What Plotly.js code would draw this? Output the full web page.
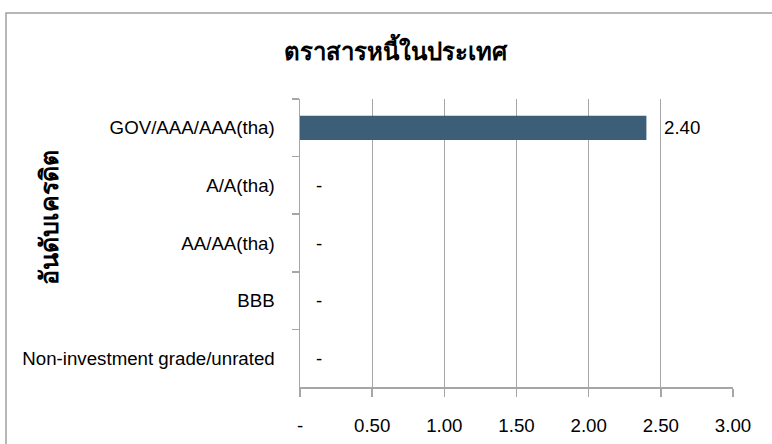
<!DOCTYPE html>
<html>
<head>
<meta charset="utf-8">
<script src="https://cdn.plot.ly/plotly-3.0.1.min.js"></script>
<style>
  html, body { margin: 0; padding: 0; background: #fff; }
  #chart { width: 772px; height: 444px; }
</style>
</head>
<body>
<div id="chart"></div>
<script>
const chartTitle = "ตราสารหนี้ในประเทศ";
const yTitle = "อันดับเครดิต";
const categories = ["GOV/AAA/AAA(tha)", "A/A(tha)", "AA/AA(tha)", "BBB", "Non-investment grade/unrated"];
const values = [2.40, 0, 0, 0, 0];
const xTickVals = [0, 0.5, 1, 1.5, 2, 2.5, 3];
const xTickText = ["-", "0.50", "1.00", "1.50", "2.00", "2.50", "3.00"];

const fmt = v => v === 0 ? "-" : v.toFixed(2);
const txtFont = { family: "Arial, 'Liberation Sans', sans-serif", size: 18.7, color: "#000" };
const thaiFont = { family: "Tahoma, 'Noto Sans', sans-serif", size: 24, color: "#000" };

const trace = {
  type: "bar",
  orientation: "h",
  y: categories,
  x: values,
  width: 0.42,
  marker: { color: "#3c5e77" },
  hoverinfo: "skip"
};

const annotations = categories.map((c, i) => ({
  x: values[i], y: c, xref: "x", yref: "y",
  text: fmt(values[i]),
  showarrow: false,
  xanchor: "left",
  xshift: values[i] === 0 ? 14 : 16,
  font: txtFont
}));

annotations.push({
  text: "<b>" + yTitle + "</b>",
  xref: "paper", yref: "paper",
  x: (48 - 300) / 433, y: (387 - 218) / 288,
  xanchor: "center", yanchor: "middle",
  textangle: -90,
  showarrow: false,
  font: Object.assign({}, thaiFont, { size: 25 })
});

const layout = {
  width: 772, height: 444,
  margin: { l: 300, r: 39, t: 99, b: 57 },
  paper_bgcolor: "#fff",
  plot_bgcolor: "#fff",
  showlegend: false,
  title: {
    text: "<b>" + chartTitle + "</b>",
    x: 395 / 772, xref: "container", xanchor: "center",
    y: 1 - 52 / 444, yref: "container", yanchor: "middle",
    font: thaiFont
  },
  xaxis: {
    range: [0, 3],
    tickvals: xTickVals,
    ticktext: xTickText,
    showgrid: true,
    gridcolor: "#a6a6a6",
    gridwidth: 1.2,
    zeroline: false,
    showline: true,
    linecolor: "#a6a6a6",
    linewidth: 1.5,
    ticks: "outside",
    ticklen: 8,
    tickcolor: "#a6a6a6",
    tickwidth: 1.5,
    ticklabelstandoff: 13,
    tickfont: txtFont,
    fixedrange: true
  },
  yaxis: {
    type: "category",
    autorange: "reversed",
    tickson: "boundaries",
    ticks: "outside",
    ticklen: 7,
    tickcolor: "#a6a6a6",
    tickwidth: 1.5,
    showline: true,
    linecolor: "#a6a6a6",
    linewidth: 1.5,
    showgrid: false,
    ticklabelstandoff: 20,
    tickfont: txtFont,
    automargin: false,
    fixedrange: true
  },
  annotations: annotations,
  shapes: [{
    type: "rect", xref: "paper", yref: "paper",
    x0: -294 / 433, x1: 1.2, y0: -0.5, y1: (387 - 13) / 288,
    line: { color: "#a0a0a0", width: 1.5 },
    fillcolor: "rgba(0,0,0,0)",
    layer: "below"
  }]
};

Plotly.newPlot("chart", [trace], layout, { displayModeBar: false, staticPlot: true });
</script>
</body>
</html>
